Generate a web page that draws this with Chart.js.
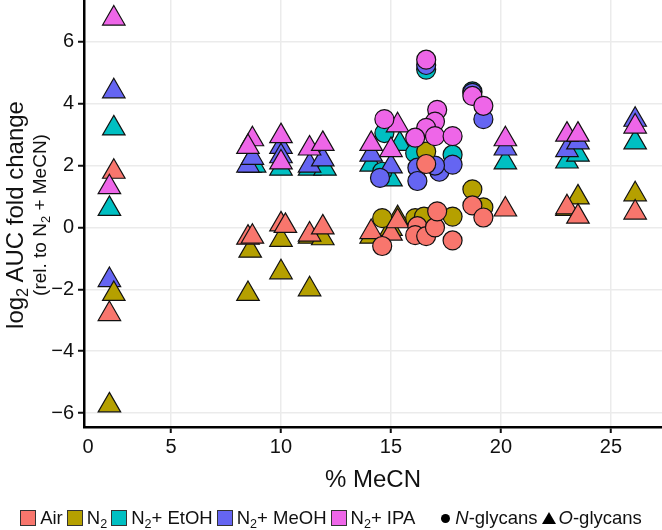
<!DOCTYPE html>
<html>
<head>
<meta charset="utf-8">
<script src="https://cdn.jsdelivr.net/npm/chart.js@4.4.1/dist/chart.umd.min.js"></script>
<style>
  body { margin: 0; background: #fff; }
  #wrap { position: relative; width: 662px; height: 530px; font-family: "Liberation Sans", Arial, sans-serif; color: #111; }
  #chart { position: absolute; left: 0; top: 0; }
  sub { font-size: 0.68em; vertical-align: -0.3em; line-height: 0; }
  #xtitle { position: absolute; left: 84px; width: 578px; top: 465px; text-align: center; font-size: 24px; line-height: 28px; }
  #ytitle { position: absolute; left: -174px; top: 190px; width: 400px; height: 50px; transform: rotate(-90deg); text-align: center; }
  #ytitle .l1 { font-size: 24px; line-height: 28px; }
  #ytitle .l2 { font-size: 19px; line-height: 22px; }
  #legend { position: absolute; left: 0; top: 507px; width: 662px; display: flex; justify-content: center; align-items: center; font-size: 18.5px; line-height: 22px; white-space: nowrap; }
  .item { display: flex; align-items: center; margin-right: 4px; }
  .key { width: 14px; height: 14px; border: 1px solid #333; margin-right: 4px; }
  .dot { width: 9px; height: 9px; border-radius: 50%; background: #000; margin: 0 5px 0 22px; }
  .tri { width: 0; height: 0; border-left: 7px solid transparent; border-right: 7px solid transparent; border-bottom: 12px solid #000; margin: 0 3px 0 4px; }
</style>
</head>
<body>
<div id="wrap">
  <canvas id="chart" width="662" height="530"></canvas>
  <div id="ytitle"><div class="l1">log<sub>2</sub> AUC fold change</div><div class="l2">(rel. to N<sub>2</sub> + MeCN)</div></div>
  <div id="xtitle">% MeCN</div>
  <div id="legend"></div>
</div>
<script>
// ticks
const xTicks = [0, 5, 10, 15, 20, 25];
const yTicks = [-6, -4, -2, 0, 2, 4, 6];

// conditions (legend order)
const conditions = ['Air', 'N<sub>2</sub>', 'N<sub>2</sub>+ EtOH', 'N<sub>2</sub>+ MeOH', 'N<sub>2</sub>+ IPA'];

// [% MeCN, log2 fold change] -- N-glycans (circles)
const airN  = [[14.6,-0.6],[16.2,0.04],[16.1,-0.25],[16.6,-0.28],[17.0,0.0],[17.1,0.52],[17.8,-0.42],[16.6,2.05],[18.7,0.71],[19.2,0.32]];
const n2N   = [[14.6,0.3],[16.1,0.3],[16.5,0.35],[17.8,0.35],[16.6,2.45],[18.7,1.23],[19.2,0.65]];
const etohN = [[14.7,3.05],[16.1,2.4],[17.8,2.35],[16.6,5.1],[18.7,4.4],[14.6,1.8]];
const meohN = [[14.5,1.6],[16.2,1.93],[16.2,1.5],[17.2,1.8],[17.8,2.03],[17.0,2.0],[16.6,5.25],[19.2,3.5],[18.7,4.35]];
const ipaN  = [[14.7,3.5],[17.1,3.8],[17.0,3.42],[16.6,3.22],[16.1,2.9],[17.0,2.95],[17.8,2.95],[16.6,5.42],[18.7,4.25],[19.2,3.93]];

// O-glycans (triangles)
const airO  = [[2.4,1.8],[2.2,-2.8],[8.5,-0.33],[8.7,-0.3],[10.0,0.1],[10.2,0.05],[11.3,-0.23],[11.9,0.0],[14.1,-0.15],[15.0,-0.2],[15.3,0.2],[20.2,0.58],[23.0,0.65],[23.5,0.35],[26.1,0.48]];
const n2O   = [[2.4,-2.15],[2.2,-5.75],[8.6,-0.75],[8.5,-2.15],[10.0,-0.4],[10.0,-1.45],[11.3,-2.0],[11.3,-0.3],[11.9,-0.35],[14.1,-0.3],[15.3,0.3],[15.0,-0.05],[23.0,0.6],[23.5,0.97],[26.1,1.07]];
const etohO = [[2.4,3.2],[2.2,0.6],[8.6,2.0],[8.8,2.0],[10.0,1.9],[11.3,1.9],[12.0,1.9],[14.1,2.03],[15.0,1.55],[15.4,2.7],[20.2,2.1],[23.0,2.13],[23.5,2.35],[26.1,2.75]];
const meohO = [[2.4,4.4],[2.2,-1.7],[8.5,2.0],[8.7,2.25],[10.0,2.6],[10.0,2.3],[11.3,2.0],[11.9,2.2],[14.1,2.35],[15.0,1.97],[20.2,2.55],[23.0,2.5],[23.5,2.75],[26.1,3.48]];
const ipaO  = [[2.4,6.75],[2.2,1.3],[8.7,2.85],[8.5,2.6],[10.0,2.95],[10.0,2.1],[11.3,2.55],[11.9,2.7],[14.1,2.7],[15.3,3.3],[15.0,2.5],[20.2,2.85],[23.0,3.0],[23.5,3.0],[26.1,3.26]];

const nSeries = [airN, n2N, etohN, meohN, ipaN];
const oSeries = [airO, n2O, etohO, meohO, ipaO];
const colors = ['#F8766D', '#B5A000', '#00BFC2', '#6565F2', '#EE66E8'];
const zOrder = [2, 3, 5, 4, 1];   // smaller = drawn on top

const toPts = arr => arr.map(p => ({ x: p[0], y: p[1] }));

const datasets = [];
conditions.forEach((c, i) => {
    datasets.push({
        label: c + ' N', data: toPts(nSeries[i]), pointStyle: 'circle', pointRadius: 9.5,
        backgroundColor: colors[i], borderColor: '#111', borderWidth: 1.2, order: zOrder[i]
    });
    datasets.push({
        label: c + ' O', data: toPts(oSeries[i]), pointStyle: 'triangle', pointRadius: 13,
        backgroundColor: colors[i], borderColor: '#111', borderWidth: 1.2, order: zOrder[i]
    });
});

const tickFont = { family: 'Liberation Sans, Arial, sans-serif', size: 20 };

new Chart(document.getElementById('chart'), {
    type: 'scatter',
    data: { datasets: datasets },
    options: {
        responsive: false,
        animation: false,
        events: [],
        layout: { padding: 0, autoPadding: false },
        plugins: { legend: { display: false }, tooltip: { enabled: false } },
        scales: {
            x: {
                type: 'linear', min: 1.045, max: 27.32,
                // the first label sits just inside the axis start, as in the original figure
                afterBuildTicks: s => { s.ticks = xTicks.map(v => ({ value: Math.max(v, s.min + 0.18) })); },
                afterFit: s => { s.height = 103; s.paddingLeft = 0; s.paddingRight = 0; },
                grid: {
                    color: ctx => ctx.index === 0 ? 'rgba(0,0,0,0)' : '#EBEBEB',
                    lineWidth: 1.5, tickLength: 6, tickWidth: 2,
                    tickColor: ctx => ctx.index === 0 ? 'rgba(0,0,0,0)' : '#111'
                },
                border: { display: true, color: '#000', width: 2.5 },
                ticks: {
                    font: tickFont, color: '#111', padding: 2, maxRotation: 0, autoSkip: false,
                    callback: (v, i) => xTicks[i]
                }
            },
            y: {
                type: 'linear', min: -6.45, max: 7.35,
                afterBuildTicks: s => { s.ticks = yTicks.map(v => ({ value: v })); },
                afterFit: s => { s.width = 84; s.paddingTop = 0; s.paddingBottom = 0; },
                grid: { color: '#EBEBEB', lineWidth: 1.5, tickLength: 6, tickWidth: 2, tickColor: '#111' },
                border: { display: true, color: '#000', width: 2.5 },
                ticks: {
                    font: tickFont, color: '#111', padding: 4,
                    callback: v => String(v).replace('-', '\u2212')
                }
            }
        }
    }
});

// legend
const legend = document.getElementById('legend');
conditions.forEach((c, i) => {
    const item = document.createElement('div');
    item.className = 'item';
    item.innerHTML = '<div class="key" style="background:' + colors[i] + '"></div><span>' + c + '</span>';
    legend.appendChild(item);
});
legend.insertAdjacentHTML('beforeend',
    '<div class="dot"></div><span><i>N</i>-glycans</span><div class="tri"></div><span><i>O</i>-glycans</span>');
</script>
</body>
</html>
